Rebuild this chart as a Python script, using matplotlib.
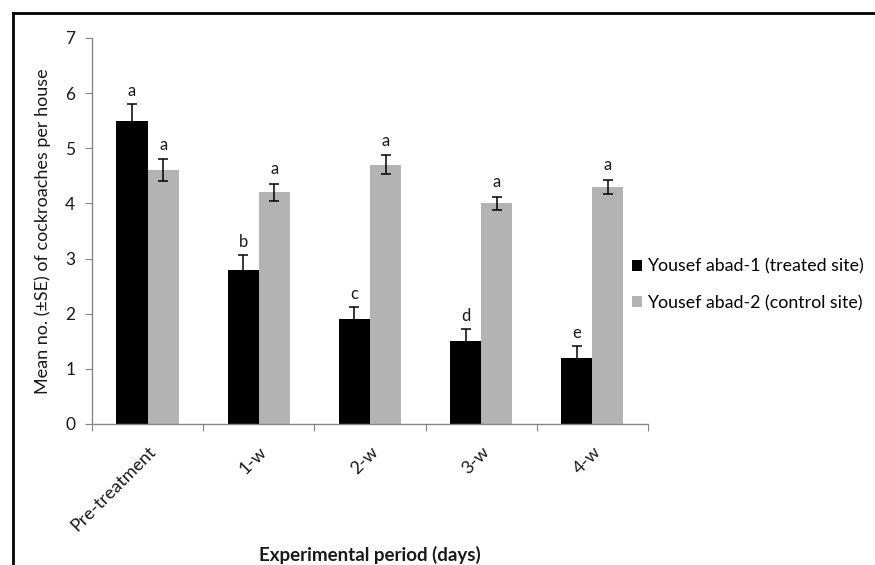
import matplotlib
matplotlib.use("Agg")
import matplotlib.pyplot as plt
import numpy as np

categories = ["Pre-treatment", "1-w", "2-w", "3-w", "4-w"]
treated = [5.5, 2.8, 1.9, 1.5, 1.2]
treated_se = [0.3, 0.26, 0.22, 0.22, 0.21]
control = [4.6, 4.2, 4.7, 4.0, 4.3]
control_se = [0.2, 0.15, 0.17, 0.12, 0.13]
treated_letters = ["a", "b", "c", "d", "e"]
control_letters = ["a", "a", "a", "a", "a"]
series_names = ["Yousef abad-1 (treated site)", "Yousef abad-2 (control site)"]
y_ticks = [0, 1, 2, 3, 4, 5, 6, 7]

plt.rcParams['font.family'] = ['Lato', 'DejaVu Sans']

fig = plt.figure(figsize=(8.75, 5.65), dpi=100)
ax = fig.add_axes([0.1051, 0.2496, 0.6354, 0.6832])

x = np.arange(len(categories))
w = 0.28
axis_col = '#868686'
txt_col = '#1a1a1a'
b1 = ax.bar(x - w/2, treated, w, color='black', label=series_names[0], zorder=2)
b2 = ax.bar(x + w/2, control, w, color='#B3B3B3', label=series_names[1], zorder=2)
ax.errorbar(x - w/2, treated, yerr=treated_se, fmt='none', ecolor='black',
            elinewidth=1.1, capsize=3.5, capthick=1.1, zorder=3)
ax.errorbar(x + w/2, control, yerr=control_se, fmt='none', ecolor='black',
            elinewidth=1.1, capsize=3.5, capthick=1.1, zorder=3)

for xi, v, e, lab in zip(x - w/2, treated, treated_se, treated_letters):
    ax.annotate(lab, (xi, v + e), xytext=(0, 6), textcoords='offset points',
                ha='center', va='baseline', fontsize=12, color=txt_col)
for xi, v, e, lab in zip(x + w/2, control, control_se, control_letters):
    ax.annotate(lab, (xi, v + e), xytext=(0, 7), textcoords='offset points',
                ha='center', va='baseline', fontsize=12, color=txt_col)

ax.set_xlim(-0.5, len(categories) - 0.5)
ax.set_ylim(0, 7)
ax.set_yticks(y_ticks)
ax.tick_params(axis='y', direction='out', length=5, color=axis_col, labelsize=12.5,
               labelcolor=txt_col, pad=7)

ax.set_xticks(np.arange(-0.5, len(categories), 1.0))
ax.set_xticklabels([])
ax.tick_params(axis='x', which='major', direction='out', length=5, color=axis_col)
ax.set_xticks(x, minor=True)
ax.set_xticklabels(categories, minor=True, rotation=45, ha='right',
                   rotation_mode='anchor', fontsize=13, color=txt_col)
ax.tick_params(axis='x', which='minor', length=0, pad=14)

for s in ['top', 'right']:
    ax.spines[s].set_visible(False)
for s in ['left', 'bottom']:
    ax.spines[s].set_color(axis_col)
    ax.spines[s].set_linewidth(1.0)

ax.set_ylabel("Mean no. (±SE) of cockroaches per house", fontsize=13,
              color=txt_col, labelpad=10)
fig.text(0.423, 1 - 555/565, "Experimental period (days)", ha='center', va='center',
         fontsize=13.5, fontweight='bold', color=txt_col)

leg = fig.legend(handles=[b1, b2], loc='center left',
                 bbox_to_anchor=(0.722, 0.496), frameon=False, fontsize=12.8,
                 handlelength=0.55, handleheight=0.55, handletextpad=0.3,
                 labelspacing=1.15, borderpad=0, borderaxespad=0)

# outer border (left and top visible)
fig.add_artist(plt.Line2D([13/875, 13/875], [0, 1 - 13/565], transform=fig.transFigure,
                          color='black', linewidth=2))
fig.add_artist(plt.Line2D([13/875, 1], [1 - 13/565, 1 - 13/565], transform=fig.transFigure,
                          color='black', linewidth=2))

fig.savefig("out.png", dpi=100)
